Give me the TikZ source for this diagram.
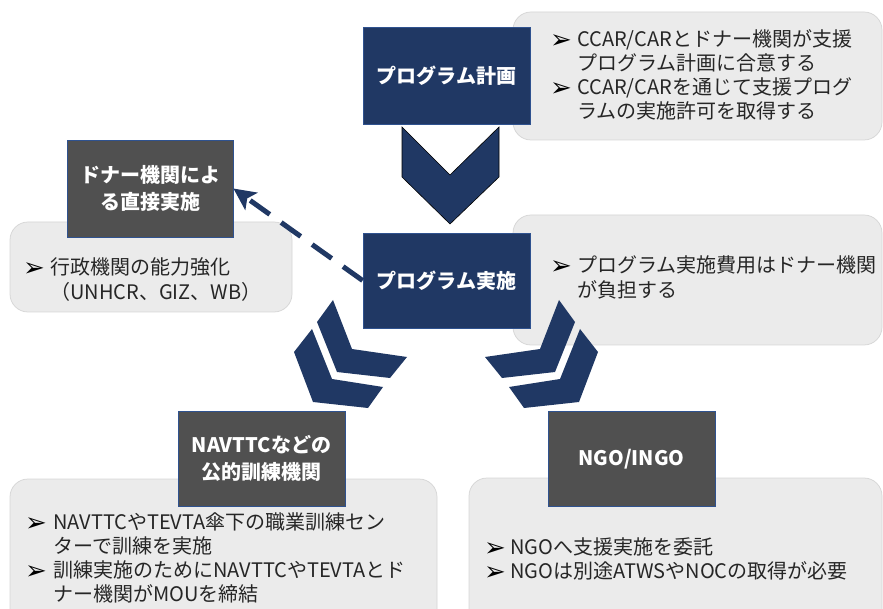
\documentclass[tikz,border=0pt]{standalone}
\usepackage{fontspec}
\newfontfamily\jp{Noto Sans CJK JP}
\newfontfamily\djv{DejaVu Sans}
\usetikzlibrary{arrows.meta}
\definecolor{navy}{HTML}{203864}
\definecolor{dgray}{HTML}{505050}
\definecolor{cgray}{HTML}{EBEBEB}
\definecolor{cline}{HTML}{D6D6D6}
\definecolor{txtc}{HTML}{262626}
\definecolor{edgec}{HTML}{2F528F}
\tikzset{
  navybox/.style={fill=navy, draw=edgec, line width=0.75pt, minimum width=167pt, minimum height=96pt, inner sep=0pt, text=white, font=\jp\bfseries\fontsize{20}{27}\selectfont, align=center},
  darkbox/.style={fill=dgray, draw=edgec, line width=0.75pt, minimum width=167pt, minimum height=96pt, inner sep=0pt, text=white, font=\jp\bfseries\fontsize{20}{27}\selectfont, align=center},
  callout/.style={fill=cgray, draw=cline, line width=0.75pt, rounded corners=18pt},
  tline/.style={anchor=base west, inner sep=0pt, text height=15pt, text depth=3pt, text=txtc, font=\jp\fontsize{20}{24}\selectfont},
  bul/.style={anchor=base west, inner sep=0pt, text height=15pt, text depth=0pt, text=black, font=\djv\fontsize{26}{24}\selectfont},
  chev/.style={fill=navy, draw=none},
  dasharrow/.style={draw=navy, line width=5pt, dash pattern=on 24pt off 14pt, -{Stealth[length=22pt,width=21pt,inset=5pt]}}
}
\begin{document}
\begin{tikzpicture}[x=1pt,y=-1pt]
\useasboundingbox (0,0) rectangle (883,609);
\clip (0,0) rectangle (883,609);
% callouts
\draw[callout] (513,12) rectangle (882,140);
\draw[callout] (513,215) rectangle (882,345);
\draw[callout] (10,222) rectangle (292,312);
\draw[callout] (10,479) rectangle (437,640);
\draw[callout] (469,478) rectangle (882,640);
% chevrons
\draw[fill=navy, draw=black, line width=0.6pt] (402,127) -- (450,175) -- (499,127) -- (499,177) -- (450,224) -- (402,177) -- cycle;
\fill[chev] (333,300) -- (352,349) -- (407,357) -- (390,378) -- (337,372) -- (317,322) -- cycle;
\fill[chev] (312,329) -- (332,379) -- (383,387) -- (368,408) -- (313,402) -- (294,352) -- cycle;
\fill[chev] (559,300) -- (540,349) -- (485,357) -- (502,378) -- (555,372) -- (575,322) -- cycle;
\fill[chev] (580,329) -- (560,379) -- (509,387) -- (524,408) -- (579,402) -- (598,352) -- cycle;
% boxes
\node[navybox, minimum height=97pt] (plan) at (446.5,75.5) {プログラム計画};
\node[navybox, minimum height=95pt] (mid) at (446.5,280.5) {プログラム実施};
\node[darkbox, minimum width=166pt, minimum height=97pt] (donor) at (150,188.5) {ドナー機関によ\\る直接実施};
\node[darkbox, minimum height=95pt] (navttc) at (261.5,458.5) {NAVTTCなどの\\公的訓練機関};
\node[darkbox, minimum height=95pt] (ngo) at (631.5,459) {NGO/INGO};
% dashed arrow
\draw[dasharrow] (mid.west) -- (donor.east);
% top callout text
\node[bul] (b1) at (550,49) {➢};
\node[tline] (t1) at (577,47) {CCAR/CARとドナー機関が支援};
\node[tline] (t2) at (577,71) {プログラム計画に合意する};
\node[bul] (b2) at (550,97) {➢};
\node[tline] (t3) at (577,95) {CCAR/CARを通じて支援プログ};
\node[tline] (t4) at (577,119) {ラムの実施許可を取得する};
% middle callout text
\node[bul] (b3) at (550,275) {➢};
\node[tline] (t5) at (577,273) {プログラム実施費用はドナー機関};
\node[tline] (t6) at (577,297.5) {が負担する};
% left callout text
\node[bul] (b4) at (23,276.5) {➢};
\node[tline] (t7) at (50,274.5) {行政機関の能力強化};
\node[tline] (t8) at (50,299.5) {（UNHCR、GIZ、WB）};
% bottom-left text
\node[bul] (b5) at (25,531.5) {➢};
\node[tline] (t9) at (53,529.5) {NAVTTCやTEVTA傘下の職業訓練セン};
\node[tline] (t10) at (53,553.5) {ターで訓練を実施};
\node[bul] (b6) at (25,579.5) {➢};
\node[tline] (t11) at (53,577.5) {訓練実施のためにNAVTTCやTEVTAとド};
\node[tline] (t12) at (53,601.5) {ナー機関がMOUを締結};
% bottom-right text
\node[bul] (b7) at (484,556.5) {➢};
\node[tline] (t13) at (510,554.5) {NGOへ支援実施を委託};
\node[bul] (b8) at (484,580.5) {➢};
\node[tline] (t14) at (510,578.5) {NGOは別途ATWSやNOCの取得が必要};
\end{tikzpicture}
\end{document}
